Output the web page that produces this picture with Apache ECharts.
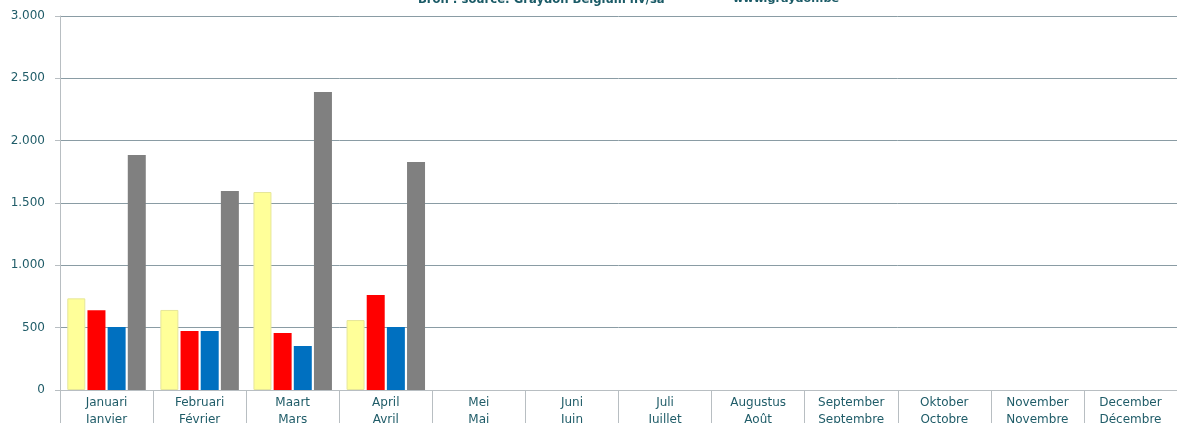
<!DOCTYPE html>
<html><head><meta charset="utf-8">
<script src="https://cdn.jsdelivr.net/npm/echarts@6/dist/echarts.min.js"></script>
<style>html,body{margin:0;padding:0;background:#fff}#c{width:1177px;height:423px}</style>
</head><body><div id="c"></div>
<script>
const categories = ["Januari\nJanvier","Februari\nFévrier","Maart\nMars","April\nAvril","Mei\nMai","Juni\nJuin","Juli\nJuillet","Augustus\nAoût","September\nSeptembre","Oktober\nOctobre","November\nNovembre","December\nDécembre"];
const seriesYellow = [735, 642, 1588, 561];
const seriesRed = [640, 473, 457, 762];
const seriesBlue = [505, 473, 353, 505];
const seriesGray = [1885, 1596, 2390, 1829];
const sourceText = "Bron : source: Graydon Belgium nv/sa";
const urlText = "www.graydon.be";

const chart = echarts.init(document.getElementById('c'), null, {renderer:'canvas'});
const txt = '#1f5c68';
const fam = '"DejaVu Sans", sans-serif';
function bar(name, data, color, border) {
  return {name, type:'bar', data, barWidth:18, barGap:'12%',
    itemStyle:{color, borderColor:border||color, borderWidth: border?1:0}};
}
chart.setOption({
  animation:false,
  grid:{left:60, right:0, top:16, bottom:33, containLabel:false, outerBoundsMode:'none'},
  graphic:[
    {type:'text', left:418, top:-6, style:{text:sourceText, fill:'#1a5a66', font:'bold 11.6px "DejaVu Sans"'}},
    {type:'text', left:733, top:-6, style:{text:urlText, fill:'#1a5a66', font:'bold 11.2px "DejaVu Sans"'}}
  ],
  xAxis:{type:'category', data:categories,
    axisLine:{lineStyle:{color:'#b8bec2'}},
    axisTick:{show:true, length:40, lineStyle:{color:'#b8bec2'}},
    axisLabel:{color:txt, fontFamily:fam, fontSize:12, lineHeight:17, margin:4}
  },
  yAxis:{type:'value', min:0, max:3000, interval:500,
    axisLine:{show:true, lineStyle:{color:'#b8bec2'}},
    axisTick:{show:true, length:5, lineStyle:{color:'#b8bec2'}},
    splitLine:{lineStyle:{color:'#8a9ca4'}},
    axisLabel:{color:txt, fontFamily:fam, fontSize:12, margin:15,
      formatter:v=>v.toString().replace(/\B(?=(\d{3})+(?!\d))/g,'.')}
  },
  series:[
    bar('Yellow', seriesYellow, '#ffff99', '#e6e69a'),
    bar('Red', seriesRed, '#ff0000'),
    bar('Blue', seriesBlue, '#0070c0'),
    bar('Gray', seriesGray, '#808080')
  ]
});
</script></body></html>
